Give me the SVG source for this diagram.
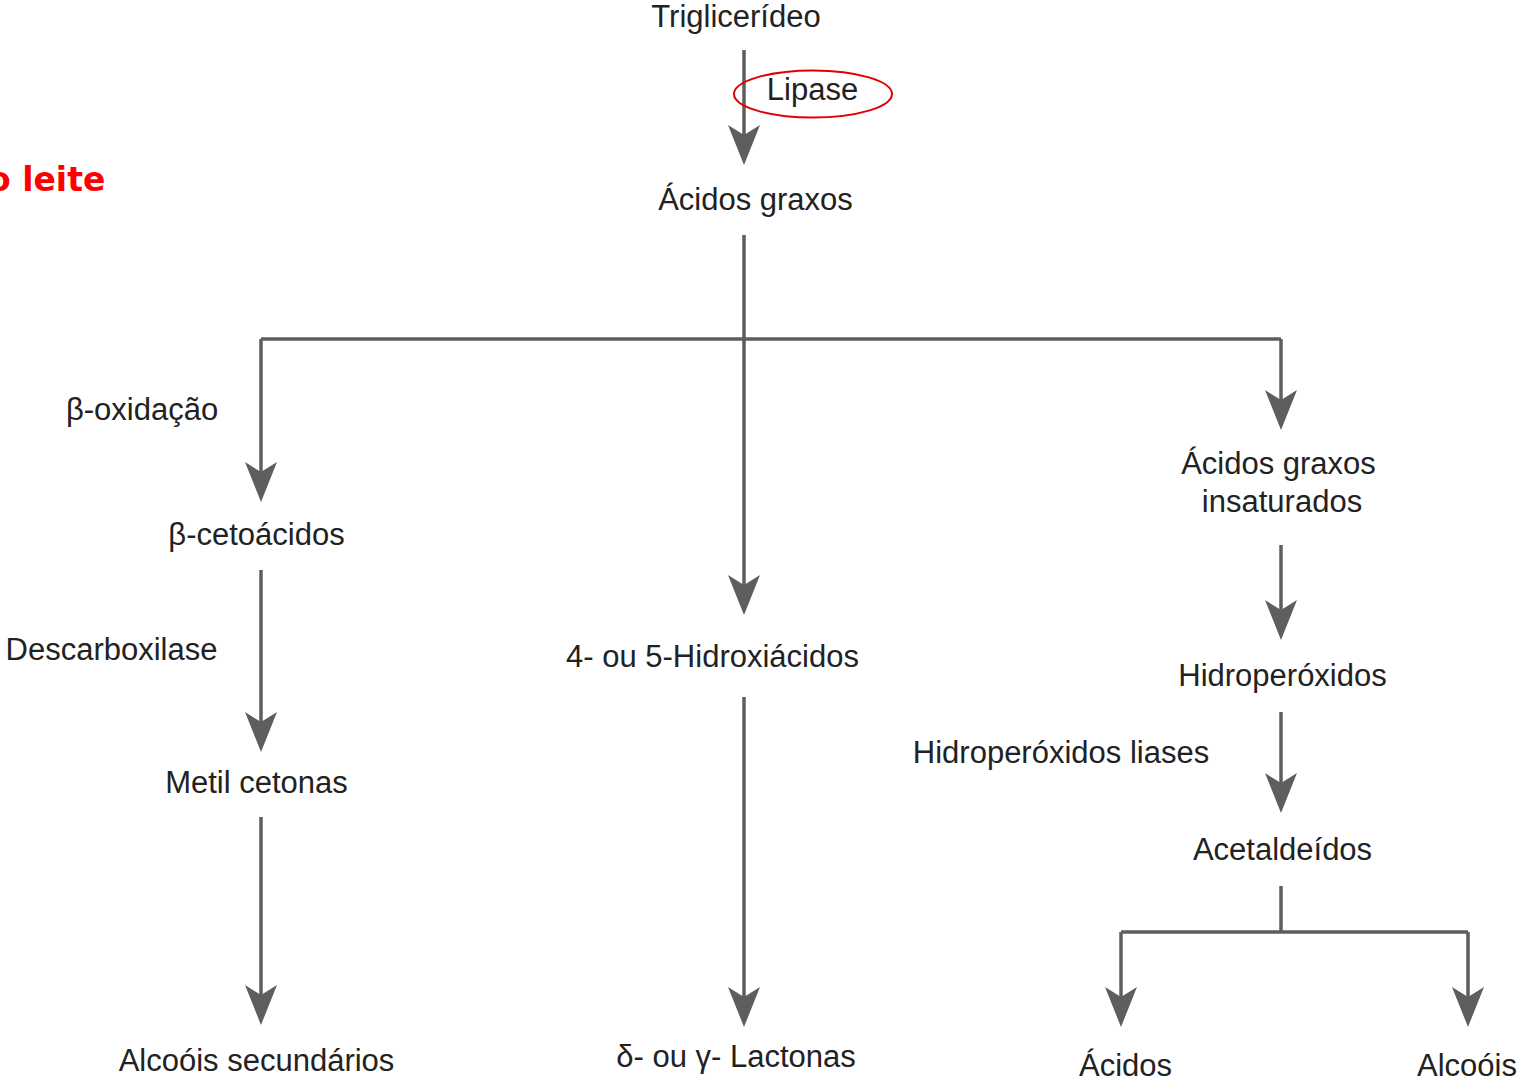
<svg xmlns="http://www.w3.org/2000/svg" width="1517" height="1081" viewBox="0 0 1517 1081">
  <style>
    .lbl { font-family: "Liberation Sans", Arial, sans-serif; font-size: 31px; fill: #222; text-anchor: middle; }
    .wire { fill: none; stroke: #5e5e5e; stroke-width: 3.5; }
    .arr { marker-end: url(#head); }
    .note { font-family: "DejaVu Sans", Verdana, sans-serif; font-size: 33px; font-weight: bold; fill: #ff0000; }
  </style>
  <defs>
    <marker id="head" markerUnits="userSpaceOnUse" orient="auto" viewBox="-42 -18 44 36" markerWidth="44" markerHeight="36" refX="-30" refY="0">
      <path d="M0,0 L-40,-16 L-30,0 L-40,16 Z" fill="#5e5e5e"/>
    </marker>
  </defs>

  <rect width="1517" height="1081" fill="#ffffff"/>

  <!-- heading runs past the left edge -->
  <text class="note" x="-12" y="191">o leite</text>

  <g id="connectors">
    <!-- lipase step -->
    <path class="wire arr" d="M744,50 V135"/>
    <!-- trunk and split -->
    <path class="wire arr" d="M744,235 V585"/>
    <path class="wire" d="M261,339 H1281"/>
    <path class="wire arr" d="M261,339 V472"/>
    <path class="wire arr" d="M1281,339 V400"/>
    <!-- left branch -->
    <path class="wire arr" d="M261,570 V722"/>
    <path class="wire arr" d="M261,817 V995"/>
    <!-- middle branch -->
    <path class="wire arr" d="M744,697 V997"/>
    <!-- right branch -->
    <path class="wire arr" d="M1281,545 V610"/>
    <path class="wire arr" d="M1281,712 V783"/>
    <path class="wire" d="M1281,886 V932 M1121,932 H1468"/>
    <path class="wire arr" d="M1121,932 V997"/>
    <path class="wire arr" d="M1468,932 V997"/>
  </g>

  <g id="n-trigliceride"><text class="lbl" x="736" y="27">Triglicerídeo</text></g>
  <g id="n-lipase">
    <ellipse cx="813" cy="94" rx="79" ry="23.5" fill="none" stroke="#e00000" stroke-width="2"/>
    <text class="lbl" x="812.5" y="100">Lipase</text>
  </g>
  <g id="n-acidos-graxos"><text class="lbl" x="755.5" y="210">Ácidos graxos</text></g>
  <g id="n-beta-oxidacao"><text class="lbl" x="142" y="420">β-oxidação</text></g>
  <g id="n-beta-cetoacidos"><text class="lbl" x="256.5" y="545">β-cetoácidos</text></g>
  <g id="n-descarboxilase"><text class="lbl" x="111.5" y="660">Descarboxilase</text></g>
  <g id="n-metil-cetonas"><text class="lbl" x="256.5" y="793">Metil cetonas</text></g>
  <g id="n-alcoois-secundarios"><text class="lbl" x="256.5" y="1071">Alcoóis secundários</text></g>
  <g id="n-hidroxiacidos"><text class="lbl" x="712.5" y="667">4- ou 5-Hidroxiácidos</text></g>
  <g id="n-lactonas"><text class="lbl" x="736" y="1067">δ- ou γ- Lactonas</text></g>
  <g id="n-insaturados">
    <text class="lbl" x="1278.5" y="474">Ácidos graxos</text>
    <text class="lbl" x="1282" y="512">insaturados</text>
  </g>
  <g id="n-hidroperoxidos"><text class="lbl" x="1282.5" y="686">Hidroperóxidos</text></g>
  <g id="n-liases"><text class="lbl" x="1061" y="763">Hidroperóxidos liases</text></g>
  <g id="n-acetaldeidos"><text class="lbl" x="1282.5" y="860">Acetaldeídos</text></g>
  <g id="n-acidos"><text class="lbl" x="1125.5" y="1076">Ácidos</text></g>
  <g id="n-alcoois"><text class="lbl" x="1467" y="1076">Alcoóis</text></g>
</svg>
